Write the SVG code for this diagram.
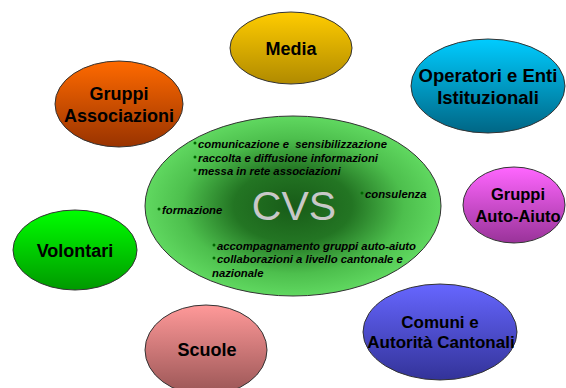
<svg xmlns="http://www.w3.org/2000/svg" width="566" height="388" viewBox="0 0 566 388">
<defs>
<radialGradient id="gCvs" cx="0.5" cy="0.5" r="0.5">
<stop offset="0" stop-color="#185c18"/>
<stop offset="0.4" stop-color="#237523"/>
<stop offset="0.75" stop-color="#4dbf4d"/>
<stop offset="1" stop-color="#60d860"/>
</radialGradient>
<linearGradient id="gOrange" x1="0" y1="0" x2="0" y2="1"><stop offset="0" stop-color="#ff6a00"/><stop offset="1" stop-color="#993300"/></linearGradient>
<linearGradient id="gYellow" x1="0" y1="0" x2="0" y2="1"><stop offset="0" stop-color="#ffcc00"/><stop offset="1" stop-color="#b08a00"/></linearGradient>
<linearGradient id="gCyan" x1="0" y1="0" x2="0" y2="1"><stop offset="0" stop-color="#00ccff"/><stop offset="1" stop-color="#006685"/></linearGradient>
<linearGradient id="gMagenta" x1="0" y1="0" x2="0" y2="1"><stop offset="0" stop-color="#ff66ff"/><stop offset="1" stop-color="#993399"/></linearGradient>
<linearGradient id="gGreen" x1="0" y1="0" x2="0" y2="1"><stop offset="0" stop-color="#00ff00"/><stop offset="1" stop-color="#009900"/></linearGradient>
<linearGradient id="gPink" x1="0" y1="0" x2="0" y2="1"><stop offset="0" stop-color="#ff9999"/><stop offset="1" stop-color="#995555"/></linearGradient>
<linearGradient id="gBlue" x1="0" y1="0" x2="0" y2="1"><stop offset="0" stop-color="#6666ff"/><stop offset="1" stop-color="#333399"/></linearGradient>
</defs>
<style>
ellipse { stroke: #333333; stroke-width: 1; }
.lbl { font-family: "Liberation Sans", Arial, sans-serif; font-weight: bold; text-anchor: middle; fill: #000000; }
.bul { font-family: "Liberation Sans", Arial, sans-serif; font-weight: bold; font-style: italic; font-size: 11.3px; fill: #000000; white-space: pre; }
.dot { fill: #006600; stroke: none; }
.cvs { font-family: "Liberation Sans", Arial, sans-serif; font-size: 41px; fill: #c8c8c8; text-anchor: middle; }
</style>
<rect width="566" height="388" fill="#ffffff"/>
<g id="connectors"></g>
<g id="cvs">
<ellipse cx="293" cy="206" rx="148" ry="90" fill="url(#gCvs)"/>
<text class="cvs" x="294" y="220">CVS</text>
<circle class="dot" cx="195" cy="143" r="1.5"/>
<text class="bul" x="198" y="148">comunicazione e  sensibilizzazione</text>
<circle class="dot" cx="195" cy="157" r="1.5"/>
<text class="bul" x="198" y="162">raccolta e diffusione informazioni</text>
<circle class="dot" cx="195" cy="170" r="1.5"/>
<text class="bul" x="198" y="175">messa in rete associazioni</text>
<circle class="dot" cx="362" cy="193" r="1.5"/>
<text class="bul" x="365" y="198">consulenza</text>
<circle class="dot" cx="159" cy="209" r="1.5"/>
<text class="bul" x="162" y="214">formazione</text>
<circle class="dot" cx="214" cy="245" r="1.5"/>
<text class="bul" x="217" y="250">accompagnamento gruppi auto-aiuto</text>
<circle class="dot" cx="214" cy="258" r="1.5"/>
<text class="bul" x="217" y="263">collaborazioni a livello cantonale e</text>
<text class="bul" x="212" y="277">nazionale</text>
</g>
<g id="media">
<ellipse cx="291" cy="48" rx="61" ry="36" fill="url(#gYellow)"/>
<text class="lbl" x="291" y="55" font-size="18">Media</text>
</g>
<g id="gruppi-associazioni">
<ellipse cx="119" cy="104" rx="64" ry="43" fill="url(#gOrange)"/>
<text class="lbl" x="119" y="100" font-size="18">Gruppi</text>
<text class="lbl" x="119" y="122" font-size="18">Associazioni</text>
</g>
<g id="operatori">
<ellipse cx="488" cy="86" rx="77" ry="47" fill="url(#gCyan)"/>
<text class="lbl" x="488" y="82" font-size="18.5">Operatori e Enti</text>
<text class="lbl" x="488" y="104" font-size="18.5">Istituzionali</text>
</g>
<g id="gruppi-auto-aiuto">
<ellipse cx="514" cy="205" rx="51" ry="38" fill="url(#gMagenta)"/>
<text class="lbl" x="518" y="200" font-size="16.5">Gruppi</text>
<text class="lbl" x="518" y="222" font-size="16.5">Auto-Aiuto</text>
</g>
<g id="volontari">
<ellipse cx="75" cy="250" rx="62" ry="40" fill="url(#gGreen)"/>
<text class="lbl" x="75" y="257" font-size="18">Volontari</text>
</g>
<g id="scuole">
<ellipse cx="206" cy="350" rx="61" ry="45" fill="url(#gPink)"/>
<text class="lbl" x="207" y="356" font-size="18">Scuole</text>
</g>
<g id="comuni">
<ellipse cx="440" cy="332" rx="77" ry="48" fill="url(#gBlue)"/>
<text class="lbl" x="440" y="328" font-size="17" fill="#000022">Comuni e</text>
<text class="lbl" x="441" y="348" font-size="17" fill="#000022">Autorità Cantonali</text>
</g>
</svg>
